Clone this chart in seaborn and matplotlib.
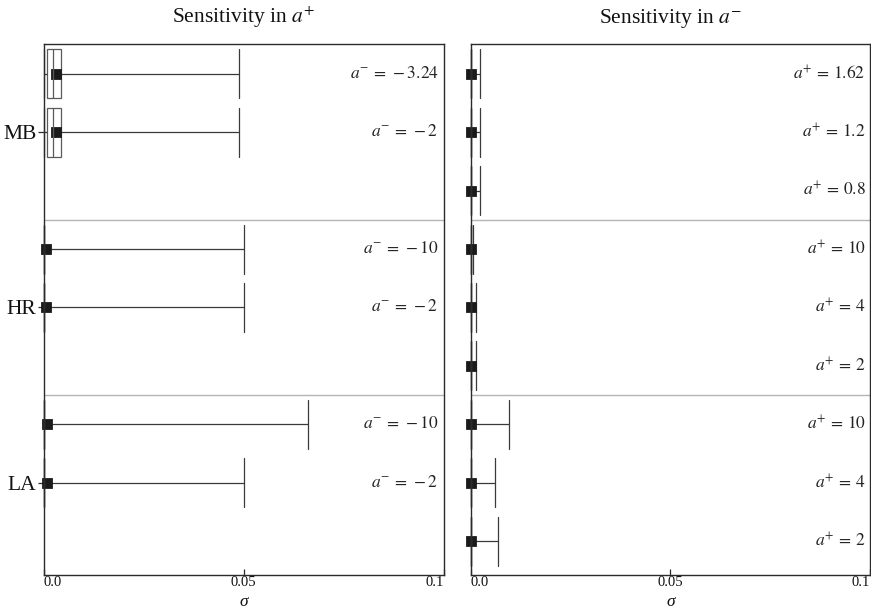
import matplotlib
matplotlib.use("Agg")
import numpy as np
import pandas as pd
import matplotlib.pyplot as plt
import seaborn as sns

# ---------------- data ----------------
datasets = ["MB", "HR", "LA"]

# Left panel: sensitivity in a+ (one row per fixed a-)
left_dataset = ["MB", "MB", "HR", "HR", "LA", "LA"]
left_label = [r"$a^{-}\,=\,-3.24$", r"$a^{-}\,=\,-2$",
              r"$a^{-}\,=\,-10$", r"$a^{-}\,=\,-2$",
              r"$a^{-}\,=\,-10$", r"$a^{-}\,=\,-2$"]
left_min = [0.0, 0.0, 0.0, 0.0, 0.0, 0.0]
left_q1 = [0.00095, 0.00095, 0.0, 0.0, 0.0, 0.0]
left_med = [0.0023, 0.0023, 0.0, 0.0, 0.0, 0.0]
left_q3 = [0.0044, 0.0044, 0.0, 0.0, 0.0, 0.0]
left_max = [0.0489, 0.0489, 0.0500, 0.0500, 0.0661, 0.0500]
left_mean = [0.0031, 0.0031, 0.0006, 0.0006, 0.0008, 0.0008]

# Right panel: sensitivity in a- (one row per fixed a+)
right_dataset = ["MB", "MB", "MB", "HR", "HR", "HR", "LA", "LA", "LA"]
right_label = [r"$a^{+}\,=\,1.62$", r"$a^{+}\,=\,1.2$", r"$a^{+}\,=\,0.8$",
               r"$a^{+}\,=\,10$", r"$a^{+}\,=\,4$", r"$a^{+}\,=\,2$",
               r"$a^{+}\,=\,10$", r"$a^{+}\,=\,4$", r"$a^{+}\,=\,2$"]
right_min = [0.0] * 9
right_q1 = [0.0] * 9
right_med = [0.0] * 9
right_q3 = [0.0] * 9
right_max = [0.0023, 0.0023, 0.0023, 0.0007, 0.0013, 0.0013, 0.0097, 0.0062, 0.0070]
right_mean = [0.0] * 9

titles = [r"Sensitivity in $a^{+}$", r"Sensitivity in $a^{-}$"]
xlabel = "σ"
xticks = [0.0, 0.05, 0.1]
xticklabels = ["0.0", "0.05", "0.1"]

# ---------------- style ----------------
sns.set_theme(style="ticks")
plt.rcParams["font.family"] = ["Liberation Serif", "DejaVu Serif"]
plt.rcParams["mathtext.fontset"] = "stix"

W, H = 871, 611
fig = plt.figure(figsize=(W / 100, H / 100), dpi=100)
top, bottom = 44, 575
ax_l = fig.add_axes([43.5 / W, 1 - bottom / H, (443.5 - 43.5) / W, (bottom - top) / H])
ax_r = fig.add_axes([470.5 / W, 1 - bottom / H, (870.3 - 470.5) / W, (bottom - top) / H])

SPINE = "#2b2b2b"
LINE = "#3a3a3a"
BOXEDGE = "#5a5a5a"


def panel(ax, ds, labels, mins, q1s, meds, q3s, maxs, means, title, show_y):
    keys = [f"{d}|{l}" for d, l in zip(ds, labels)]
    order = []
    for d in datasets:
        k = [key for key, dd in zip(keys, ds) if dd == d]
        order += k + [f"{d}|gap{i}" for i in range(3 - len(k))]
    summary = np.column_stack([mins, q1s, meds, q3s, maxs])
    long = pd.DataFrame({"row": np.repeat(keys, 5), "sigma": summary.ravel()})
    sns.boxplot(data=long, x="sigma", y="row", order=order, orient="h",
                whis=(0, 100), width=0.84, color="white", linecolor=LINE,
                linewidth=0.9, fliersize=0, capwidths=0.84, ax=ax,
                boxprops=dict(edgecolor=BOXEDGE),
                medianprops=dict(color=BOXEDGE))
    sns.pointplot(x=means, y=keys, order=order, orient="h", linestyle="none",
                  markers="s", markersize=6.0, color="#1a1a1a",
                  errorbar=None, ax=ax)
    for art in ax.get_children():
        try:
            art.set_clip_on(False)
        except Exception:
            pass
    for key, lab in zip(keys, labels):
        ax.text(0.0988, order.index(key), lab, ha="right", va="center",
                fontsize=12.5, color="#222222")
    ax.axhline(2.5, color="#b5b5b5", lw=1.0, zorder=0)
    ax.axhline(5.5, color="#b5b5b5", lw=1.0, zorder=0)
    ax.set_xlim(0, 0.1)
    ax.set_ylim(8.58, -0.51)
    ax.set_xticks(xticks)
    ax.set_xticklabels(xticklabels, fontsize=10.5)
    tl = ax.get_xticklabels()
    tl[0].set_horizontalalignment("left")
    tl[-1].set_horizontalalignment("right")
    ax.tick_params(axis="x", direction="in", length=4, width=0.9, colors=SPINE, pad=0.5)
    if show_y:
        mids = [[k for k, dd in zip(keys, ds) if dd == d][1] for d in datasets]
        ax.set_yticks([order.index(k) for k in mids], datasets, fontsize=15.5)
        ax.tick_params(axis="y", direction="out", length=4, width=0.9, colors=SPINE, pad=1)
        for t in ax.get_yticklabels():
            t.set_color("#111111")
    else:
        ax.set_yticks([])
    for t in ax.get_xticklabels():
        t.set_color("#111111")
    ax.set_ylabel("")
    ax.set_xlabel(xlabel, fontsize=12.5, fontstyle="italic", color="#111111")
    ax.xaxis.label.set_verticalalignment("bottom")
    ax.xaxis.set_label_coords(0.5, -(H - bottom - 0.5) / (bottom - top))
    ax.set_title(title, fontsize=15.5, pad=15, color="#111111")
    for s in ax.spines.values():
        s.set_visible(True)
        s.set_color(SPINE)
        s.set_linewidth(1.0)


panel(ax_l, left_dataset, left_label, left_min, left_q1, left_med, left_q3,
      left_max, left_mean, titles[0], True)
panel(ax_r, right_dataset, right_label, right_min, right_q1, right_med, right_q3,
      right_max, right_mean, titles[1], False)

fig.savefig("out.png", dpi=100)
